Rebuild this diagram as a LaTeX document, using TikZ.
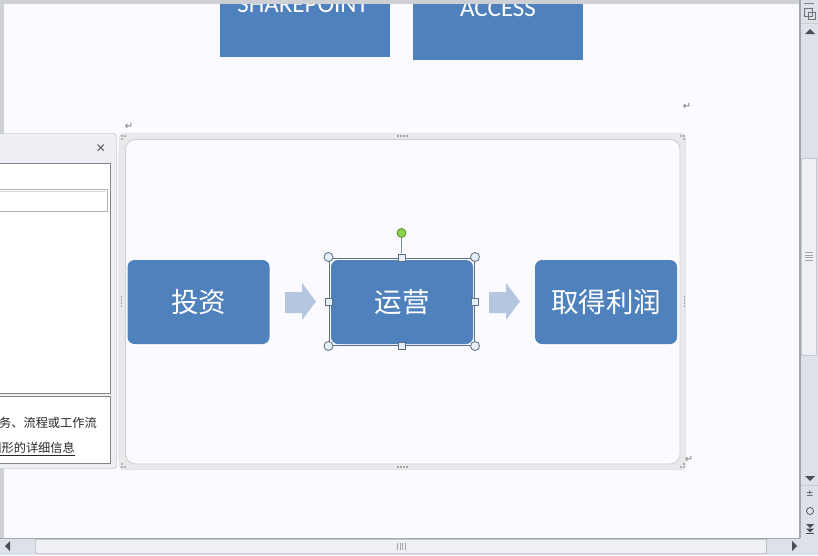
\documentclass[tikz,border=0pt]{standalone}
\usepackage{fontspec}
\setmainfont{Liberation Sans}
\newfontfamily\cjk{Noto Sans CJK SC}
\newfontfamily\latf{Carlito}
\newfontfamily\dvf{DejaVu Sans}
\definecolor{pagebg}{HTML}{FBFBFF}
\definecolor{wingray}{HTML}{CDD0D5}
\definecolor{sbbg}{HTML}{DDE1E8}
\definecolor{sbline}{HTML}{A2A7AE}
\definecolor{boxblue}{HTML}{4F81BD}
\definecolor{arrowcol}{HTML}{B5C6E0}
\definecolor{framebg}{HTML}{E9E9EB}
\definecolor{frameline}{HTML}{CFCFD2}
\definecolor{panelbg}{HTML}{EEEFF4}
\definecolor{panelborder}{HTML}{A9B2BA}
\definecolor{listborder}{HTML}{858585}
\definecolor{selcol}{HTML}{5B6F85}
\definecolor{handlefill}{HTML}{E6EEF6}
\definecolor{rotgreen}{HTML}{8CD24A}
\definecolor{thumbfill}{HTML}{EEF0F5}
\definecolor{thumbline}{HTML}{8D939B}
\definecolor{iconcol}{HTML}{4A4D52}
\tikzset{
  bluebox/.style={fill=boxblue, rounded corners=7pt, minimum width=142pt, minimum height=84pt, inner sep=0pt, text=white, font=\cjk\fontsize{27.5}{27.5}\selectfont},
  toptext/.style={text=white, inner sep=0pt, font=\latf\fontsize{25}{25}\selectfont},
  uitext/.style={inner sep=0pt, text=black!85, font=\cjk\fontsize{12.2}{12.2}\selectfont},
  retmark/.style={inner sep=0pt, text=black!55, font=\dvf\fontsize{10}{10}\selectfont},
  cornerhandle/.style={circle, fill=handlefill, draw=selcol, line width=0.8pt, minimum size=9pt, inner sep=0pt},
  sidehandle/.style={rectangle, fill=handlefill, draw=selcol, line width=0.8pt, minimum size=7pt, inner sep=0pt},
  blockarrow/.style={fill=arrowcol},
  sbicon/.style={inner sep=0pt, text=iconcol, font=\dvf\fontsize{9}{9}\selectfont},
  grip/.style={fill=black!35}
}
\begin{document}
\begin{tikzpicture}[x=1pt,y=-1pt]
\useasboundingbox (0,0) rectangle (818,555);
% page background
\fill[pagebg] (0,0) rectangle (800,538);

% top boxes (partially scrolled away)
\fill[boxblue] (220,0) rectangle (390,57);
\fill[boxblue] (413,0) rectangle (583,60);
\node[toptext, anchor=base] (sptxt) at (303,12.5) {SHAREPOINT};
\node[toptext, anchor=base] (actxt) at (498,16) {ACCESS};

% window edges
\fill[wingray] (0,0) rectangle (800,4);
\fill[wingray] (0,0) rectangle (4,538);

% return marks
\node[retmark] (r1) at (129,126) {↵};
\node[retmark] (r2) at (687,106) {↵};
\node[retmark] (r3) at (689,459) {↵};

% SmartArt frame
\filldraw[fill=framebg, draw=frameline, rounded corners=4pt] (119.5,133.5) rectangle (685.5,469.5);
\filldraw[fill=pagebg, draw=frameline, line width=0.9pt, rounded corners=10pt] (125.5,139.5) rectangle (680,464);
% frame sizing dots
\foreach \xx in {397,400,403,406}{
  \fill[black!35] (\xx,135) rectangle ++(1.5,1.5);
  \fill[black!35] (\xx,466) rectangle ++(1.5,1.5);
}
\foreach \yy in {296,299,302,305}{
  \fill[black!35] (120.5,\yy) rectangle ++(1.5,1.5);
  \fill[black!35] (683.5,\yy) rectangle ++(1.5,1.5);
}
\foreach \cx/\cy in {121/135,124/135,121/138,680/135,683/135,683/138,121/463,121/466,124/466,680/466,683/466,683/463}{
  \fill[black!30] (\cx,\cy) rectangle ++(1.5,1.5);
}

% process boxes
\node[bluebox] (inv) at (198.5,302) {投资};
\node[bluebox] (ops) at (402,302) {运营};
\node[bluebox] (prof) at (606,302) {取得利润};

% block arrows between the boxes
\fill[blockarrow] (285,292) -- (302,292) -- (302,283) -- (316,301.5) -- (302,320) -- (302,313) -- (285,313) -- cycle;
\fill[blockarrow] (489,292) -- (506,292) -- (506,283) -- (520,301.5) -- (506,320) -- (506,313) -- (489,313) -- cycle;

% selection of the middle box
\draw[selcol, line width=0.8pt] (329,258) rectangle (474,345);
\draw[selcol!80, line width=0.9pt] (401.5,238) -- (401.5,253);
\node[circle, fill=rotgreen, draw=rotgreen!60!black, line width=0.7pt, minimum size=9pt, inner sep=0pt] (rot) at (401.5,233) {};
\node[cornerhandle] (h1) at (328.5,257) {};
\node[cornerhandle] (h2) at (475,257) {};
\node[cornerhandle] (h3) at (328.5,346) {};
\node[cornerhandle] (h4) at (475,346) {};
\node[sidehandle] (h5) at (401.5,257.5) {};
\node[sidehandle] (h6) at (401.5,346) {};
\node[sidehandle] (h7) at (328.5,301.5) {};
\node[sidehandle] (h8) at (475,301.5) {};

% left task pane
\filldraw[fill=panelbg, draw=panelborder, rounded corners=3pt] (-6,133.5) rectangle (116.5,468.5);
\draw[black!8] (118,150) -- (118,460);
\node[inner sep=0pt, text=black!65, font=\dvf\fontsize{12}{12}\selectfont] (close) at (101,149) {✕};
\filldraw[fill=white, draw=listborder] (-6,163.5) rectangle (110.5,393.5);
\filldraw[fill=white, draw=black!30, line width=1pt] (-6,189) rectangle (107.5,211);
\draw[black!15] (-6,191) -- (106,191);
\filldraw[fill=white, draw=listborder] (-6,396.5) rectangle (110.5,463.5);
\node[uitext, anchor=base east] (t1) at (97,427) {任务、流程或工作流};
\node[uitext, anchor=base east] (t2) at (75,452) {图形的详细信息};
\draw[black!85, line width=0.7pt] (0,455) -- (75,455);

% vertical scrollbar
\fill[sbbg] (800,0) rectangle (818,555);
\fill[sbline] (799,0) rectangle (801,538);
\fill[iconcol!70] (804,3) rectangle (814,4.2);
\draw[iconcol!80, line width=0.6pt] (804,8) rectangle (812,16);
\draw[iconcol!80, line width=0.6pt] (808,12) rectangle (815,19);
\draw[black!20] (801,23.5) -- (818,23.5);
\fill[iconcol] (805,34) -- (815,34) -- (810,29) -- cycle;
\filldraw[fill=thumbfill, draw=thumbline, rounded corners=1pt] (801.5,158.5) rectangle (816.5,355.5);
\foreach \yy in {252,254.5,257,259.5}{ \fill[grip] (805,\yy) rectangle (813,\yy+0.8); }
\fill[iconcol] (805,476) -- (815,476) -- (810,481) -- cycle;
\draw[black!20] (801,485.5) -- (818,485.5);
\node[sbicon] (pgup) at (810,494) {±};
\draw[iconcol, line width=0.7pt] (810,511) circle (3.5pt);
\fill[iconcol] (806,524) -- (814,524) -- (810,528) -- cycle;
\fill[iconcol] (806,528.5) -- (814,528.5) -- (810,532.5) -- cycle;
\fill[iconcol] (806,533) rectangle (814,534);

% horizontal scrollbar
\fill[sbbg] (0,538) rectangle (800,555);
\fill[sbline] (0,537.5) rectangle (800,538.8);
\fill[iconcol] (5,546) -- (10,541) -- (10,551) -- cycle;
\filldraw[fill=thumbfill, draw=thumbline, rounded corners=1pt] (35.5,539.5) rectangle (766.5,553.5);
\foreach \xx in {397,399.5,402,404.5}{ \fill[grip] (\xx,543) rectangle (\xx+0.8,550); }
\draw[black!25] (766.5,539) -- (766.5,554);
\fill[iconcol] (797,546) -- (792,541) -- (792,551) -- cycle;
\end{tikzpicture}
\end{document}
